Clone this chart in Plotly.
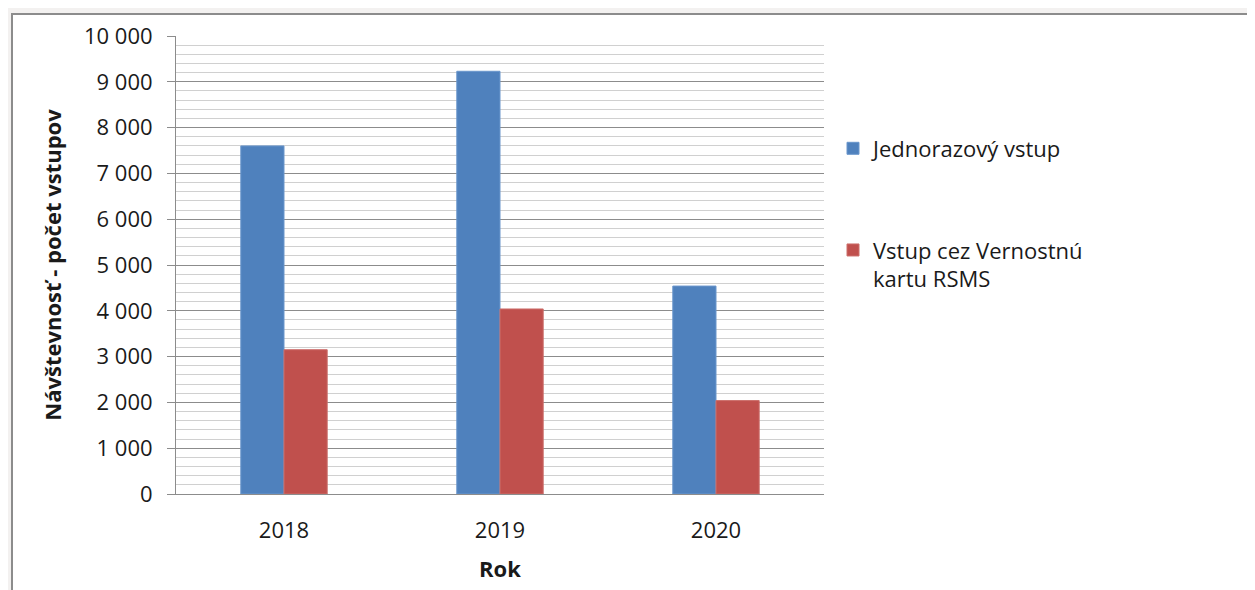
import plotly.graph_objects as go

years = ["2018", "2019", "2020"]
jednorazovy = [7600, 9230, 4540]
vernostna = [3150, 4040, 2040]
series_names = ["Jednorazový vstup", "Vstup cez Vernostnú<br>kartu RSMS"]
y_ticks = [0, 1000, 2000, 3000, 4000, 5000, 6000, 7000, 8000, 9000, 10000]

FONT = "Open Sans, Noto Sans, sans-serif"
TXT = "#1a1a1a"
W, H = 1255, 590
OFF = 8  # page body margin
# plot area in screen pixels
SX0, SX1, SY0, SY1 = 176, 824, 34, 494
L, R, T, B = SX0 - OFF, W - (SX1 - OFF), SY0 - OFF, H - (SY1 - OFF)
pw, ph = SX1 - SX0, SY1 - SY0

def px_x(x):
    return (x - SX0) / pw

def px_y(y):
    return (SY1 - y) / ph

fig = go.Figure()
fig.add_trace(go.Bar(x=years, y=jednorazovy, name=series_names[0],
                     marker=dict(color="#4F81BD", line=dict(color="#6A96CC", width=1)),
                     legend="legend"))
fig.add_trace(go.Bar(x=years, y=vernostna, name=series_names[1],
                     marker=dict(color="#C0504D", line=dict(color="#CC6E6B", width=1)),
                     legend="legend2"))

fig.update_layout(
    width=W, height=H,
    margin=dict(l=L, r=R, t=T, b=B),
    paper_bgcolor="#f3f1f0",
    plot_bgcolor="white",
    separators=", ",
    bargap=0.6, bargroupgap=0,
    barmode="group",
    font=dict(family=FONT, size=21, color=TXT),
    shapes=[dict(type="rect", xref="paper", yref="paper",
                 x0=px_x(12), x1=px_x(1275), y0=px_y(610), y1=px_y(12),
                 fillcolor="white", line=dict(color="#8c8c8c", width=2),
                 layer="below")],
    legend=dict(x=px_x(833), y=px_y(147), xanchor="left", yanchor="middle",
                bgcolor="rgba(0,0,0,0)", font=dict(size=22, color=TXT),
                itemwidth=30, valign="top"),
    legend2=dict(x=px_x(833), y=px_y(228), xanchor="left", yanchor="top",
                 bgcolor="rgba(0,0,0,0)", font=dict(size=22, color=TXT),
                 itemwidth=30, valign="top"),
    showlegend=True,
)

fig.update_yaxes(
    range=[0, 10000], tickvals=y_ticks, tickformat=",d",
    showline=True, linecolor="#8c8c8c", linewidth=1,
    ticks="outside", ticklen=8, tickcolor="#8c8c8c",
    showgrid=True, gridcolor="#8c8c8c", gridwidth=1,
    minor=dict(dtick=200, showgrid=True, gridcolor="#d0d0d0", gridwidth=1),
    zeroline=False,
    ticklabelstandoff=10,
    tickfont=dict(size=22, color=TXT),
    title=dict(text="<b>Návštevnosť - počet vstupov</b>", font=dict(size=22, color=TXT), standoff=16),
)
fig.update_xaxes(
    showline=True, linecolor="#8c8c8c", linewidth=1,
    ticks="", showgrid=False,
    tickfont=dict(size=22, color=TXT),
    ticklabelstandoff=17,
    title=dict(text="<b>Rok</b>", font=dict(size=22, color=TXT), standoff=18),
)

fig.write_html("out.html")
